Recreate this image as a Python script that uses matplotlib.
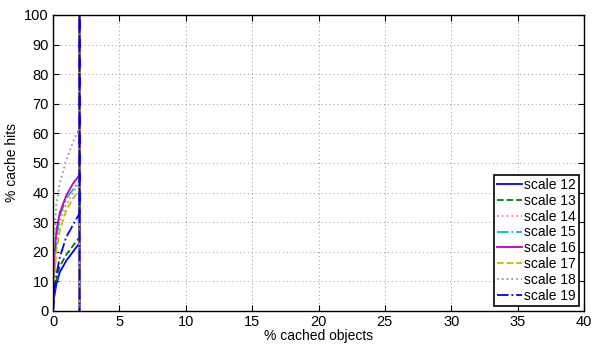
import matplotlib
matplotlib.use("Agg")
import matplotlib.pyplot as plt

plt.rcParams['font.family'] = ['Liberation Sans', 'DejaVu Sans']

x_vals = [0, 0.1, 0.25, 0.5, 1.0, 1.5, 2.0, 2.0, 2.0]
labels = ["scale 12", "scale 13", "scale 14", "scale 15", "scale 16", "scale 17", "scale 18", "scale 19"]
s12 = [0, 5, 9, 13, 17, 20, 23, 100, 0]
s13 = [0, 6, 10, 15, 19, 22, 25, 100, 0]
s14 = [0, 12, 22, 30, 36, 40, 43, 100, 0]
s15 = [0, 14, 24, 32, 38, 41, 44, 100, 0]
s16 = [0, 18, 27, 33, 39, 43, 46, 100, 0]
s17 = [0, 10, 20, 27, 34, 38, 41, 100, 0]
s18 = [0, 25, 36, 43, 51, 57, 62, 100, 0]
s19 = [0, 7, 12, 18, 25, 29, 33, 100, 0]
series = [s12, s13, s14, s15, s16, s17, s18, s19]
colors = ['#0000ff', '#008000', '#ff8080', '#00bfbf', '#bf00bf', '#bfbf00', '#999999', '#0000ff']
styles = ['-', '--', ':', '-.', '-', '--', ':', '-.']
xticks = [0, 5, 10, 15, 20, 25, 30, 35, 40]
yticks = [0, 10, 20, 30, 40, 50, 60, 70, 80, 90, 100]

fig = plt.figure(figsize=(5.93, 3.45), dpi=100)
ax = fig.add_axes([0.0894, 0.0986, 0.8954, 0.858])
for y, c, ls, lab in zip(series, colors, styles, labels):
    ax.plot(x_vals, y, color=c, linestyle=ls, linewidth=1.3, label=lab)
ax.set_xlim(0, 40)
ax.set_ylim(0, 100)
ax.set_xticks(xticks)
ax.set_yticks(yticks)
ax.tick_params(direction='in', top=True, right=True, labelsize=10.5, length=4, width=0.8, pad=3)
ax.grid(True, linestyle=(0, (1, 3)), color='#999999', linewidth=0.7)
for sp in ax.spines.values():
    sp.set_linewidth(1.0)
ax.set_xlabel('% cached objects', fontsize=10, labelpad=0)
ax.set_ylabel('% cache hits', fontsize=10, labelpad=4)
leg = ax.legend(loc='lower right', fontsize=10, frameon=True, fancybox=False,
                edgecolor='black', framealpha=1, borderpad=0.25, labelspacing=0.13,
                handlelength=1.75, handletextpad=0.15, borderaxespad=0.35)
leg.get_frame().set_linewidth(1.2)
fig.savefig('out.png', dpi=100)
